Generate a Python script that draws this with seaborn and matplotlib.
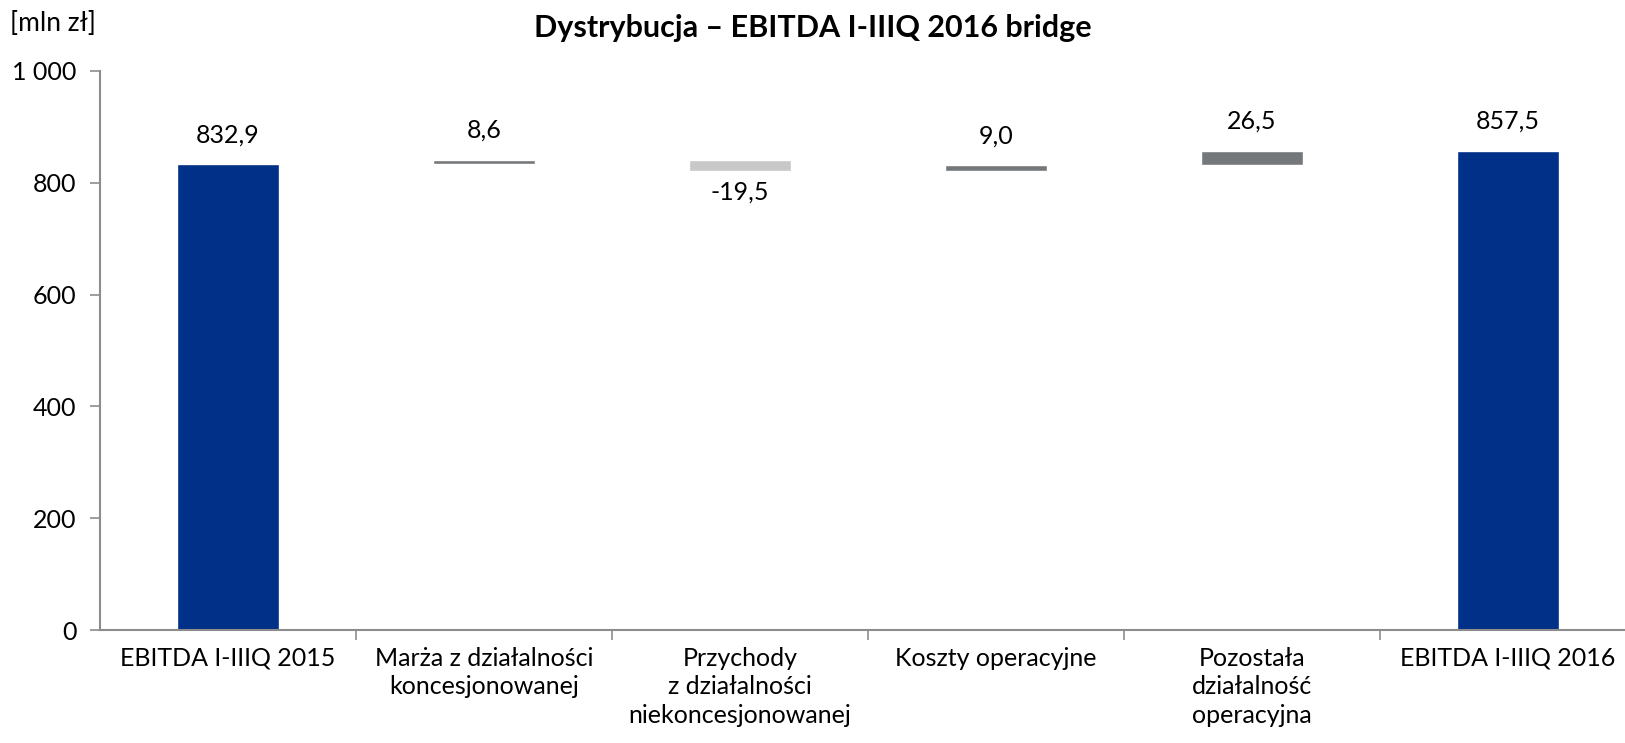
import numpy as np
import pandas as pd
import matplotlib
matplotlib.use("Agg")
import matplotlib.pyplot as plt
import seaborn as sns
from matplotlib.ticker import FixedLocator, FuncFormatter

categories = ["EBITDA I-IIIQ 2015",
              "Marża z działalności\nkoncesjonowanej",
              "Przychody\nz działalności\nniekoncesjonowanej",
              "Koszty operacyjne",
              "Pozostała\ndziałalność\noperacyjna",
              "EBITDA I-IIIQ 2016"]
start_value = 832.9
deltas = [8.6, -19.5, 9.0, 26.5]
end_value = 857.5
labels = ["832,9", "8,6", "-19,5", "9,0", "26,5", "857,5"]

# waterfall: bottoms and tops
running = [start_value]
for d in deltas:
    running.append(running[-1] + d)
bases = [0.0]
tops = [start_value]
for i, d in enumerate(deltas):
    lo, hi = sorted([running[i], running[i + 1]])
    bases.append(lo)
    tops.append(hi)
bases.append(0.0)
tops.append(end_value)

values = [start_value] + deltas + [end_value]
df = pd.DataFrame({"cat": categories, "top": tops, "base": bases, "val": values})

blue = "#003087"
gray = "#75787B"
light = "#C8C8C8"
colors = [blue, gray, light, gray, gray, blue]

sns.set_style("white")
plt.rcParams["font.family"] = ["Lato", "DejaVu Sans"]
plt.rcParams["text.color"] = "black"
plt.rcParams["xtick.color"] = "black"
plt.rcParams["ytick.color"] = "black"

fig = plt.figure(figsize=(16.25, 7.43), dpi=100)
ax = fig.add_axes([100 / 1625, 113 / 743, 1536 / 1625, 559 / 743])

sns.barplot(data=df, x="cat", y="top", hue="cat", palette=colors, width=0.4,
            saturation=1, legend=False, ax=ax)
# white bars hide everything below the floating steps
sns.barplot(data=df, x="cat", y="base", color="white", width=0.4,
            saturation=1, ax=ax)

for i, (t, b, v, lab) in enumerate(zip(tops, bases, values, labels)):
    if v >= 0:
        ax.annotate(lab, (i, t), xytext=(0, 13), textcoords="offset points",
                    ha="center", va="bottom", fontsize=18)
    else:
        ax.annotate(lab, (i, b), xytext=(0, -7), textcoords="offset points",
                    ha="center", va="top", fontsize=18)

ax.set_xlim(-0.5, 5.5)
ax.set_ylim(0, 1000)
ax.set_yticks([0, 200, 400, 600, 800, 1000])
ax.yaxis.set_major_formatter(FuncFormatter(lambda v, p: f"{int(v):,}".replace(",", " ")))
ax.xaxis.set_minor_locator(FixedLocator(np.arange(0.5, 5.6, 1.0)))
ax.tick_params(axis="x", which="major", length=0, pad=12, labelsize=18)
ax.tick_params(axis="x", which="minor", length=7, width=1.2, color="#8c8c8c", direction="out", bottom=True)
ax.tick_params(axis="y", length=7, width=1.2, color="#8c8c8c", direction="out", pad=10, labelsize=18, left=True)
for t in ax.get_xticklabels():
    t.set_linespacing(1.3)
ax.set_xlabel("")
ax.set_ylabel("")

for s in ["top", "right"]:
    ax.spines[s].set_visible(False)
for s in ["left", "bottom"]:
    ax.spines[s].set_color("#8c8c8c")
    ax.spines[s].set_linewidth(1.5)

fig.text(0.5, 0.962, "Dystrybucja – EBITDA I-IIIQ 2016 bridge", ha="center", va="center",
         fontsize=22, fontweight="bold")
fig.text(0.006, 0.968, "[mln zł]", ha="left", va="center", fontsize=19)

fig.savefig("out.png", dpi=100)
